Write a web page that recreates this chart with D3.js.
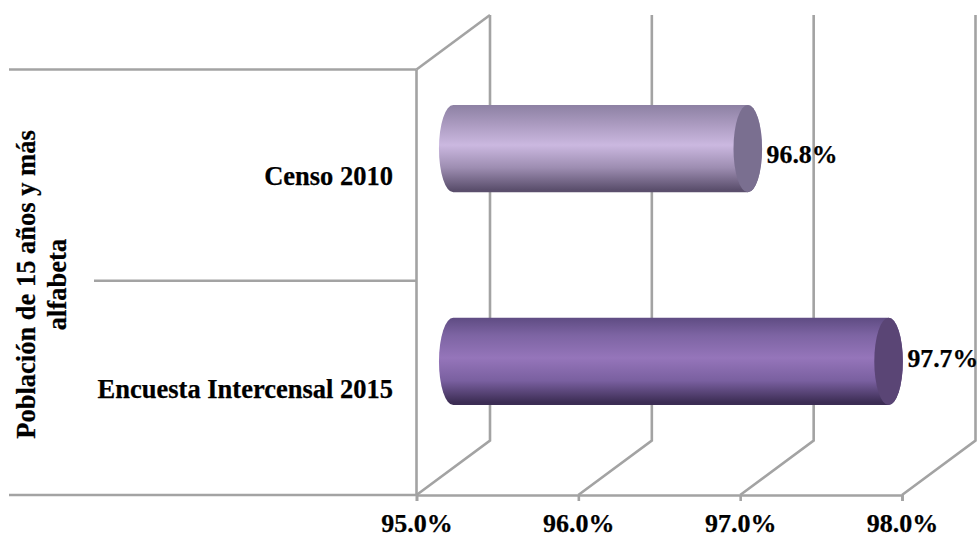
<!DOCTYPE html>
<html>
<head>
<meta charset="utf-8">
<script src="https://cdnjs.cloudflare.com/ajax/libs/d3/7.8.5/d3.min.js"></script>
<style>
  html, body { margin: 0; padding: 0; background: #fff; }
  svg { display: block; }
  text { font-family: "Liberation Serif", serif; font-weight: bold; fill: #000; stroke: #000; stroke-width: 0.25px; }
</style>
</head>
<body>
<div id="chart"></div>
<script>
// data
var categories = ['Censo 2010', 'Encuesta Intercensal 2015'];
var values = [96.82, 97.69];
var axisTicks = [95, 96, 97, 98];
var groupLabel = ['Población de 15 años y más', 'alfabeta'];

// bar colours: [edge, mid, light, lower, bottom, cap]
var barColors = [
  ['#8d81a3', '#a898bd', '#cbb8e0', '#9d8db1', '#5b4f6d', '#7a6f90'],
  ['#5f4c83', '#7d64a3', '#9575ba', '#7a60a0', '#3c2d54', '#5a4575']
];

var attrs = {
  width: 979, height: 537,
  left: 416.5, right: 902, top: 69.5, bottom: 495,
  depthX: 73.5, depthY: 54.5,
  gridColor: '#a3a3a3', gridWidth: 2.6,
  fontSize: 26.5,
  valueDy: [14.5, 5.5] // data labels were hand placed in the original
};

var svg = d3.select('#chart').append('svg')
  .attr('width', attrs.width).attr('height', attrs.height);

var x = d3.scaleLinear().domain([95, 98]).range([attrs.left, attrs.right]);
var y = d3.scaleBand().domain(categories).range([attrs.top, attrs.bottom]).paddingInner(0.59).paddingOuter(0.295);

// gradients
var defs = svg.append('defs');
categories.forEach(function (c, i) {
  var g = defs.append('linearGradient').attr('id', 'bar' + i)
    .attr('x1', 0).attr('x2', 0).attr('y1', 0).attr('y2', 1);
  [[0, 0], [0.2, 1], [0.46, 2], [0.72, 3], [0.97, 4], [1, 4]].forEach(function (s) {
    g.append('stop').attr('offset', s[0]).attr('stop-color', barColors[i][s[1]]);
  });
});

// back wall and floor gridlines
var grid = svg.append('g').attr('class', 'grid')
  .attr('fill', 'none').attr('stroke', attrs.gridColor).attr('stroke-width', attrs.gridWidth);

grid.selectAll('path').data(axisTicks).enter().append('path')
  .attr('d', function (d) {
    var p = d3.path();
    p.moveTo(x(d), attrs.bottom);
    p.lineTo(x(d) + attrs.depthX, attrs.bottom - attrs.depthY);
    p.lineTo(x(d) + attrs.depthX, attrs.top - attrs.depthY);
    return p.toString();
  });

// side wall top edge going back
grid.append('line')
  .attr('x1', x(95)).attr('y1', attrs.top)
  .attr('x2', x(95) + attrs.depthX).attr('y2', attrs.top - attrs.depthY);

// multi level category axis lines
var catLines = [
  { y: attrs.top, x0: 9 },
  { y: (attrs.top + attrs.bottom) / 2 - 1.5, x0: 94 },
  { y: attrs.bottom, x0: 9 }
];
grid.selectAll('.cat-line').data(catLines).enter().append('line')
  .attr('class', 'cat-line')
  .attr('x1', function (d) { return d.x0; }).attr('x2', x(95))
  .attr('y1', function (d) { return d.y; }).attr('y2', function (d) { return d.y; });

grid.append('line')
  .attr('x1', x(95)).attr('x2', x(95))
  .attr('y1', attrs.top).attr('y2', attrs.bottom);

// x axis
var xAxis = svg.append('g')
  .attr('transform', 'translate(0,' + attrs.bottom + ')')
  .call(d3.axisBottom(x).tickValues(axisTicks).tickSize(6).tickPadding(13)
    .tickFormat(function (d) { return d3.format('.1f')(d) + '%'; }));
xAxis.selectAll('path, line').attr('stroke', attrs.gridColor).attr('stroke-width', attrs.gridWidth);
xAxis.selectAll('text').attr('font-size', 26).attr('font-family', '"Liberation Serif", serif');

// cylinders
var rx = 14.3;
var bars = svg.selectAll('.bar').data(values).enter().append('g').attr('class', 'bar');

function centerY(i) {
  return y(categories[i]) + y.bandwidth() / 2 - attrs.depthY / 2;
}
function frontX(v) {
  return x(v) + attrs.depthX / 2;
}

bars.append('path')
  .attr('fill', function (d, i) { return 'url(#bar' + i + ')'; })
  .attr('d', function (d, i) {
    var ry = y.bandwidth() / 2;
    var t = centerY(i) - ry, b = centerY(i) + ry;
    var x0 = frontX(95), x1 = frontX(d);
    return 'M' + x0 + ',' + t + 'L' + x1 + ',' + t +
      'A' + rx + ',' + ry + ' 0 0 1 ' + x1 + ',' + b +
      'L' + x0 + ',' + b +
      'A' + rx + ',' + ry + ' 0 0 1 ' + x0 + ',' + t + 'Z';
  });

bars.append('ellipse')
  .attr('fill', function (d, i) { return barColors[i][5]; })
  .attr('cx', function (d) { return frontX(d); })
  .attr('cy', function (d, i) { return centerY(i); })
  .attr('rx', rx)
  .attr('ry', y.bandwidth() / 2);

// value labels
bars.append('text')
  .attr('font-size', 25.8)
  .attr('x', function (d) { return frontX(d) + rx + 4.5; })
  .attr('y', function (d, i) { return centerY(i) + attrs.valueDy[i]; })
  .text(function (d) { return d3.format('.1f')(d) + '%'; });

// category labels
svg.selectAll('.cat-label').data(categories).enter().append('text')
  .attr('class', 'cat-label')
  .attr('font-size', attrs.fontSize)
  .attr('text-anchor', 'end')
  .attr('x', 393)
  .attr('y', function (d) { return centerY(categories.indexOf(d)) + 36.5; })
  .text(function (d) { return d; });

// rotated group label
svg.selectAll('.group-label').data(groupLabel).enter().append('text')
  .attr('class', 'group-label')
  .attr('font-size', attrs.fontSize)
  .attr('text-anchor', 'middle')
  .attr('transform', function (d, i) { return 'translate(' + (35 + i * 30.7) + ',284.5) rotate(-90)'; })
  .text(function (d) { return d; });
</script>
</body>
</html>
